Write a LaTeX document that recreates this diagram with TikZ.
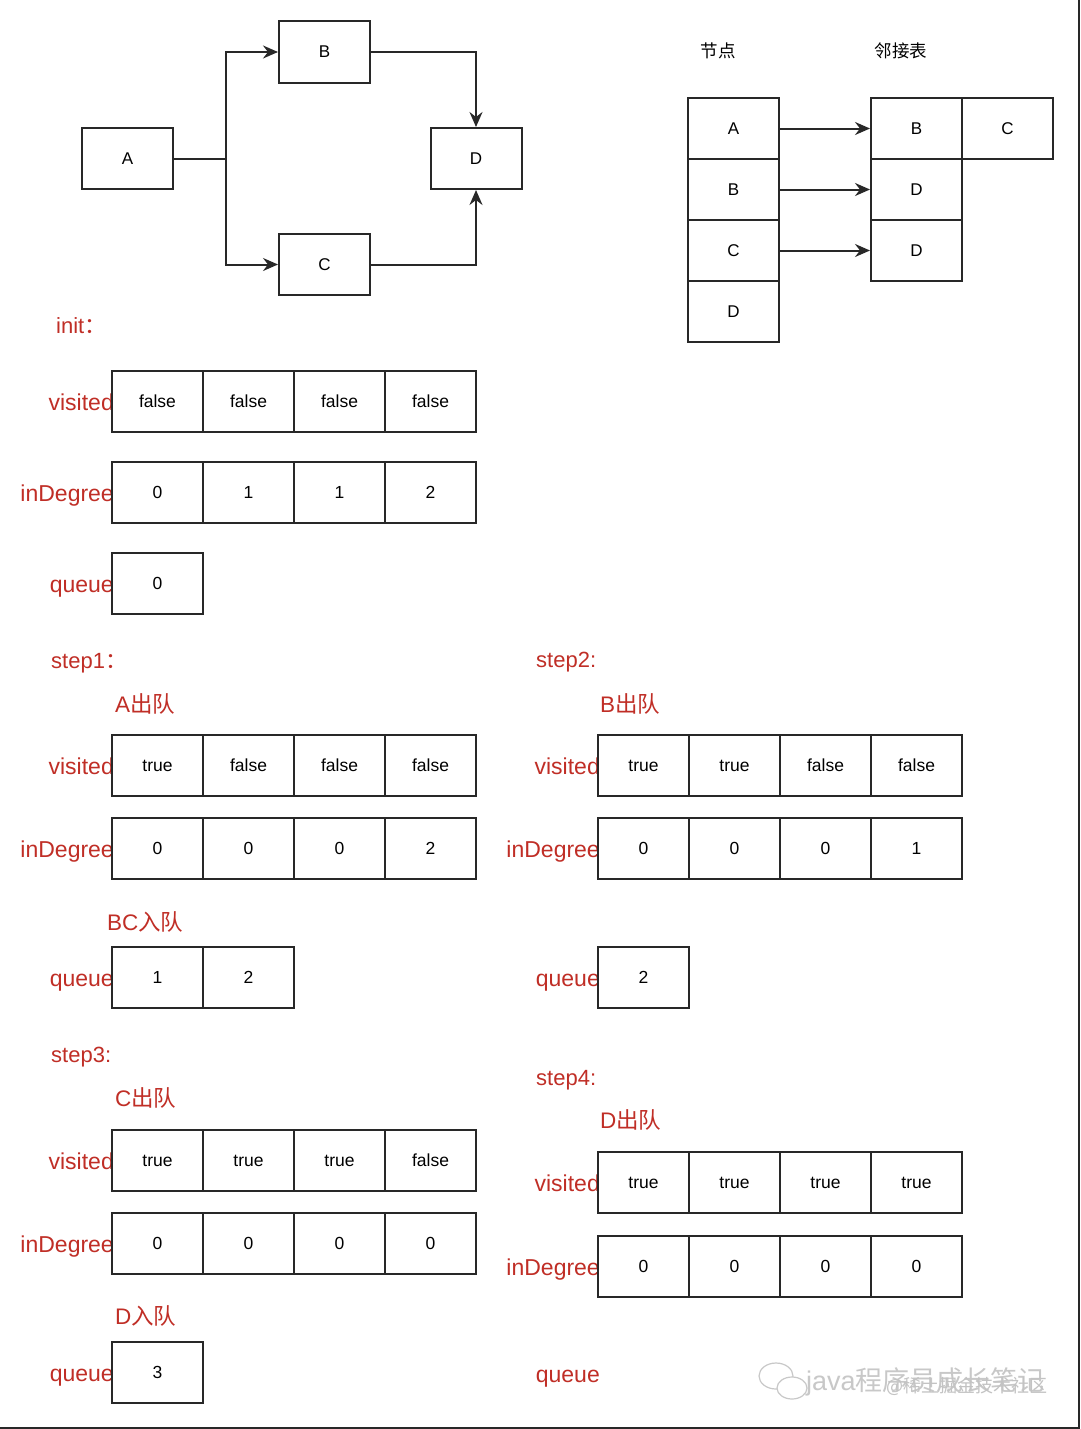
\documentclass[tikz,border=0pt]{standalone}
\usepackage{fontspec}
\setmainfont{Liberation Sans}
\newfontfamily\cjk{Noto Sans CJK SC}
\usetikzlibrary{arrows.meta}
\definecolor{lblred}{RGB}{192,46,38}
\definecolor{edge}{RGB}{40,40,40}
\definecolor{wm}{RGB}{200,200,200}
\tikzset{
  cell/.style={draw=edge, line width=2pt, minimum width=91pt, minimum height=61pt, inner sep=0pt, font=\fontsize{17.5}{20}\selectfont},
  gbox/.style={draw=edge, line width=2pt, minimum width=91pt, minimum height=61pt, inner sep=0pt, font=\fontsize{17}{20}\selectfont},
  rowlbl/.style={anchor=base east, inner sep=0pt, text=lblred, font=\fontsize{23}{25}\selectfont},
  head/.style={anchor=base west, inner sep=0pt, text=lblred, font=\fontsize{22}{24}\selectfont},
  cnhead/.style={anchor=base west, inner sep=0pt, text=lblred, font=\fontsize{22.5}{24}\selectfont},
  conn/.style={draw=edge, line width=2pt},
  arr/.style={conn, -{Stealth[length=15pt,width=13pt,inset=5pt]}},
}
\begin{document}
\begin{tikzpicture}[x=1pt,y=-1pt]
\useasboundingbox (0,0) rectangle (1080,1429);
\fill[white] (0,0) rectangle (1080,1429);
\draw[edge, line width=2pt] (1078.5,0) -- (1078.5,1427.5) -- (0,1427.5);

% ---- graph ----
\node[gbox] (gA) at (127.5,158.5) {A};
\node[gbox] (gB) at (324.5,52) {B};
\node[gbox] (gC) at (324.5,264.5) {C};
\node[gbox] (gD) at (476,158.5) {D};
\coordinate (split) at (226,158.5);
\draw[conn] (gA.east) -- (split);
\draw[arr] (split) |- (gB.west);
\draw[arr] (split) |- (gC.west);
\draw[arr] (gB.east) -| (gD.north);
\draw[arr] (gC.east) -| (gD.south);

% ---- adjacency list ----
\node[inner sep=0pt, font=\cjk\fontsize{17.5}{20}\selectfont] (hNode) at (718,51) {节点};
\node[inner sep=0pt, font=\cjk\fontsize{17.5}{20}\selectfont] (hAdj) at (901,51) {邻接表};
\foreach \t [count=\i] in {A,B,C,D}
  \node[gbox] (n\i) at (733.5,{98+30.5+(\i-1)*61}) {\t};
\node[gbox] (m1) at (916.5,128.5) {B};
\node[gbox] (m1b) at (1007.5,128.5) {C};
\node[gbox] (m2) at (916.5,189.5) {D};
\node[gbox] (m3) at (916.5,250.5) {D};
\draw[arr] (n1.east) -- (m1.west);
\draw[arr] (n2.east) -- (m2.west);
\draw[arr] (n3.east) -- (m3.west);

% ---- init ----
\node[head] (tinit) at (56,333) {init{\cjk ：}};
\node[rowlbl] (lv0) at (114,410) {visited};
\foreach \t [count=\i] in {false,false,false,false}
  \node[cell] (v0\i) at ({112+45.5+(\i-1)*91},401.5) {\t};
\node[rowlbl] (ld0) at (114,501) {inDegree};
\foreach \t [count=\i] in {0,1,1,2}
  \node[cell] (d0\i) at ({112+45.5+(\i-1)*91},492.5) {\t};
\node[rowlbl] (lq0) at (114,592) {queue};
\node[cell] (q01) at (157.5,583.5) {0};

% ---- step1 ----
\node[head] (ts1) at (51,668) {step1{\cjk ：}};
\node[cnhead] (a1) at (115,712) {A{\cjk 出队}};
\node[rowlbl] (lv1) at (114,774) {visited};
\foreach \t [count=\i] in {true,false,false,false}
  \node[cell] (v1\i) at ({112+45.5+(\i-1)*91},765.5) {\t};
\node[rowlbl] (ld1) at (114,857) {inDegree};
\foreach \t [count=\i] in {0,0,0,2}
  \node[cell] (d1\i) at ({112+45.5+(\i-1)*91},848.5) {\t};
\node[cnhead] (b1) at (107,930) {BC{\cjk 入队}};
\node[rowlbl] (lq1) at (114,986) {queue};
\foreach \t [count=\i] in {1,2}
  \node[cell] (q1\i) at ({112+45.5+(\i-1)*91},977.5) {\t};

% ---- step2 ----
\node[head] (ts2) at (536,667) {step2:};
\node[cnhead] (a2) at (600,712) {B{\cjk 出队}};
\node[rowlbl] (lv2) at (600,774) {visited};
\foreach \t [count=\i] in {true,true,false,false}
  \node[cell] (v2\i) at ({598+45.5+(\i-1)*91},765.5) {\t};
\node[rowlbl] (ld2) at (600,857) {inDegree};
\foreach \t [count=\i] in {0,0,0,1}
  \node[cell] (d2\i) at ({598+45.5+(\i-1)*91},848.5) {\t};
\node[rowlbl] (lq2) at (600,986) {queue};
\node[cell] (q21) at (643.5,977.5) {2};

% ---- step3 ----
\node[head] (ts3) at (51,1062) {step3:};
\node[cnhead] (a3) at (115,1106) {C{\cjk 出队}};
\node[rowlbl] (lv3) at (114,1169) {visited};
\foreach \t [count=\i] in {true,true,true,false}
  \node[cell] (v3\i) at ({112+45.5+(\i-1)*91},1160.5) {\t};
\node[rowlbl] (ld3) at (114,1252) {inDegree};
\foreach \t [count=\i] in {0,0,0,0}
  \node[cell] (d3\i) at ({112+45.5+(\i-1)*91},1243.5) {\t};
\node[cnhead] (b3) at (115,1324) {D{\cjk 入队}};
\node[rowlbl] (lq3) at (114,1381) {queue};
\node[cell] (q31) at (157.5,1372.5) {3};

% ---- step4 ----
\node[head] (ts4) at (536,1085) {step4:};
\node[cnhead] (a4) at (600,1128) {D{\cjk 出队}};
\node[rowlbl] (lv4) at (600,1191) {visited};
\foreach \t [count=\i] in {true,true,true,true}
  \node[cell] (v4\i) at ({598+45.5+(\i-1)*91},1182.5) {\t};
\node[rowlbl] (ld4) at (600,1275) {inDegree};
\foreach \t [count=\i] in {0,0,0,0}
  \node[cell] (d4\i) at ({598+45.5+(\i-1)*91},1266.5) {\t};
\node[rowlbl] (lq4) at (600,1382) {queue};

% ---- watermark ----
\draw[wm, line width=1.2pt] (776,1376) ellipse (17pt and 13pt);
\fill[white] (792,1388) ellipse (15pt and 11pt);
\draw[wm, line width=1.2pt] (792,1388) ellipse (15pt and 11pt);
\node[anchor=base west, inner sep=0pt, text=wm, font=\fontsize{27}{30}\selectfont] (wm1) at (806,1390) {java{\cjk 程序员成长笔记}};
\node[anchor=base west, inner sep=0pt, text=wm!110, font=\cjk\fontsize{18}{20}\selectfont] (wm2) at (886,1392) {@稀土掘金技术社区};
\end{tikzpicture}
\end{document}
